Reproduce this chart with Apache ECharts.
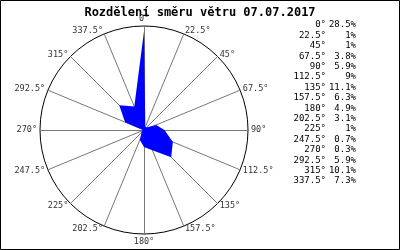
<!DOCTYPE html>
<html><head><meta charset="utf-8">
<script src="https://cdn.jsdelivr.net/npm/echarts@6/dist/echarts.min.js"></script>
<style>html,body{margin:0;padding:0;background:#fff}#c{width:400px;height:250px}</style>
</head><body><div id="c"></div>
<script>
const titleText = 'Rozdělení směru větru 07.07.2017';
const directions = ['0°','22.5°','45°','67.5°','90°','112.5°','135°','157.5°','180°','202.5°','225°','247.5°','270°','292.5°','315°','337.5°'];
const percents = [28.5, 1, 1, 3.8, 5.9, 9, 11.1, 6.3, 4.9, 3.1, 1, 0.7, 0.3, 5.9, 10.1, 7.3];
const legendValues = ['28.5%','1%','1%','3.8%','5.9%','9%','11.1%','6.3%','4.9%','3.1%','1%','0.7%','0.3%','5.9%','10.1%','7.3%'];
const scaleMax = 30;

// ECharts radar runs counter-clockwise; reorder so directions go clockwise
const order = directions.map((d, i) => (directions.length - i) % directions.length);
const indicators = order.map(i => ({ name: directions[i], max: scaleMax, min: 0 }));
const values = order.map(i => percents[i]);

const mono = 'DejaVu Sans Mono';
const legendEls = [];
directions.forEach((d, i) => {
  const y = 25 + i * 10.4;
  legendEls.push({ type: 'text', x: 326, y: y, style: { text: d, font: '9px "' + mono + '"', fill: '#000', align: 'right', verticalAlign: 'middle' } });
  legendEls.push({ type: 'text', x: 356, y: y, style: { text: legendValues[i], font: '9px "' + mono + '"', fill: '#000', align: 'right', verticalAlign: 'middle' } });
});

const chart = echarts.init(document.getElementById('c'), null, { renderer: 'canvas' });
chart.setOption({
  animation: false,
  backgroundColor: '#fff',
  title: { text: titleText, left: 'center', top: 2, textStyle: { fontFamily: mono, fontWeight: 'bold', fontSize: 12, color: '#000' } },
  radar: {
    center: [144, 130],
    radius: 104,
    startAngle: 90,
    shape: 'circle',
    splitNumber: 1,
    indicator: indicators,
    axisName: { color: '#333', fontFamily: mono, fontSize: 8.5 },
    nameGap: 3,
    axisLine: { lineStyle: { color: '#777', width: 1 } },
    splitLine: { lineStyle: { color: '#000', width: 1 } },
    splitArea: { show: false },
    axisTick: { show: false },
    axisLabel: { show: false }
  },
  series: [{
    type: 'radar',
    symbol: 'none',
    lineStyle: { width: 0, color: '#0000ff' },
    areaStyle: { color: '#0000ff', opacity: 1 },
    data: [{ value: values }]
  }],
  graphic: [
    { type: 'rect', shape: { x: 0.5, y: 0.5, width: 399, height: 249 }, style: { fill: null, stroke: '#000', lineWidth: 1 }, z: 100 },
    ...legendEls
  ]
});
</script></body></html>
